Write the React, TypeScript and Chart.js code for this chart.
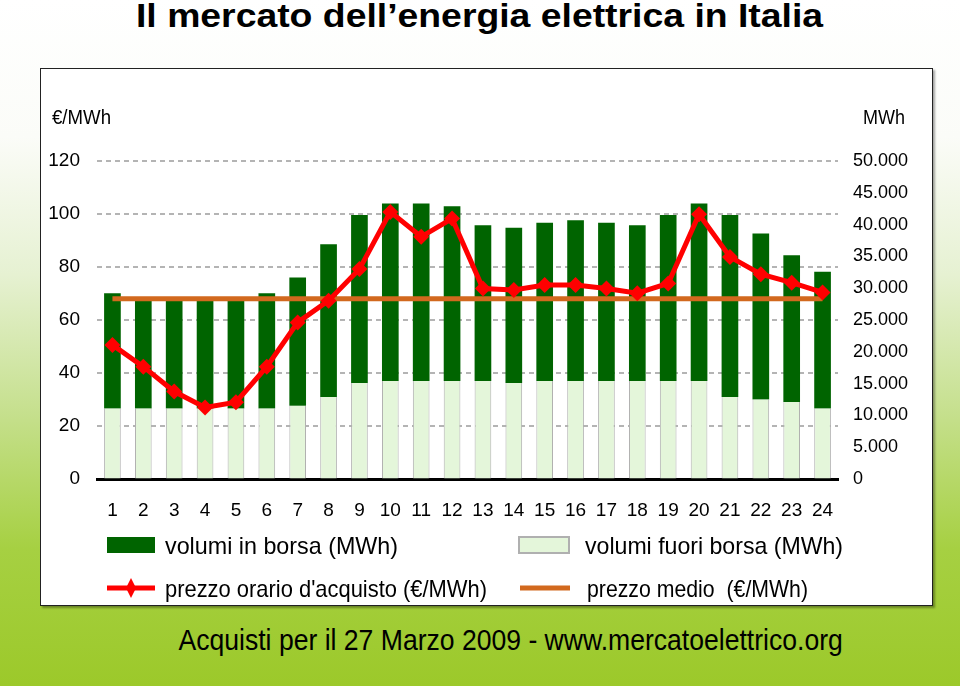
import React, { useEffect, useLayoutEffect, useRef } from "react";
import { Chart, registerables } from "chart.js";

Chart.register(...registerables);

const hours = ["1","2","3","4","5","6","7","8","9","10","11","12","13","14","15","16","17","18","19","20","21","22","23","24"];
const volumiInBorsa = [18100,17400,17400,17400,17400,18100,20200,24000,26400,27900,27900,27500,24500,24400,24900,25300,24900,24500,26100,27900,28600,26100,23100,21500];
const volumiFuoriBorsa = [11100,11100,11100,11100,11100,11100,11500,12900,15100,15400,15400,15400,15400,15100,15400,15400,15400,15400,15400,15400,12900,12500,12100,11100];
const prezzoOrario = [50.6,42.4,33.0,27.0,29.0,42.4,59.1,67.3,79.2,100.8,91.4,98.3,71.9,71.3,73.2,73.2,71.9,70.1,73.8,99.9,83.8,77.3,74.1,70.4];
const prezzoMedio = [68,68,68,68,68,68,68,68,68,68,68,68,68,68,68,68,68,68,68,68,68,68,68,68];
const leftTicks = ["0","20","40","60","80","100","120"];
const rightTicks = ["0","5.000","10.000","15.000","20.000","25.000","30.000","35.000","40.000","45.000","50.000"];

const FONT = '"Liberation Sans", Arial, sans-serif';
const DARK = "#006400";
const LIGHT = "#e4f6da";
const RED = "#ff0000";
const ORANGE = "#d2691e";

const legendPlugin = {
  id: "customLegend",
  afterDraw(chart: any) {
    const ctx = chart.ctx;
    const ds = chart.data.datasets;
    ctx.save();
    ctx.fillStyle = "#000";
    ctx.textBaseline = "alphabetic";
    ctx.textAlign = "left";
    ctx.font = `20px ${FONT}`;
    ctx.fillText("€/MWh", 11, 55, 59);
    ctx.fillText("MWh", 822, 55, 42);

    ctx.font = `24px ${FONT}`;
    // row 1
    ctx.fillStyle = ds[1].backgroundColor;
    ctx.fillRect(66, 468, 48, 16);
    ctx.fillStyle = "#000";
    ctx.fillText(ds[1].label, 124, 485, 233);

    ctx.fillStyle = ds[0].backgroundColor;
    ctx.fillRect(478, 468, 50, 16);
    ctx.strokeStyle = "#b0b0b0";
    ctx.lineWidth = 2;
    ctx.strokeRect(478, 468, 50, 16);
    ctx.fillStyle = "#000";
    ctx.fillText(ds[0].label, 544, 485, 258);

    // row 2
    ctx.strokeStyle = ds[3].borderColor;
    ctx.lineWidth = 5;
    ctx.beginPath();
    ctx.moveTo(66, 519);
    ctx.lineTo(114, 519);
    ctx.stroke();
    ctx.fillStyle = ds[3].borderColor;
    ctx.beginPath();
    ctx.moveTo(90, 509);
    ctx.lineTo(95, 519);
    ctx.lineTo(90, 529);
    ctx.lineTo(85, 519);
    ctx.closePath();
    ctx.fill();
    ctx.fillStyle = "#000";
    ctx.fillText(ds[3].label, 124, 528, 322);

    ctx.strokeStyle = ds[2].borderColor;
    ctx.lineWidth = 5;
    ctx.beginPath();
    ctx.moveTo(479, 519);
    ctx.lineTo(529, 519);
    ctx.stroke();
    ctx.fillStyle = "#000";
    ctx.fillText(ds[2].label, 546, 528, 221);
    ctx.restore();
  },
};

function FitText(props: { text: string; cx: number; top: number; width: number; size: number; bold?: boolean }) {
  const ref = useRef<HTMLSpanElement | null>(null);
  useLayoutEffect(() => {
    const el = ref.current;
    if (!el) return;
    const w = el.offsetWidth;
    const k = w > 0 ? props.width / w : 1;
    el.style.left = `${props.cx - w / 2}px`;
    el.style.transform = `scaleX(${k})`;
    el.style.transformOrigin = "center";
  }, []);
  return (
    <span
      ref={ref}
      style={{
        position: "absolute",
        top: props.top,
        left: 0,
        whiteSpace: "nowrap",
        fontFamily: FONT,
        fontWeight: props.bold ? "bold" : "normal",
        fontSize: props.size,
        lineHeight: `${props.size}px`,
        color: "#000",
      }}
    >
      {props.text}
    </span>
  );
}

export default function App() {
  const ref = useRef<HTMLCanvasElement | null>(null);

  useEffect(() => {
    if (!ref.current) return;
    const chart = new Chart(ref.current, {
      type: "bar",
      data: {
        labels: hours,
        datasets: [
          {
            type: "bar",
            label: "volumi fuori borsa (MWh)",
            data: volumiFuoriBorsa,
            backgroundColor: LIGHT,
            borderColor: "#b0b0b0",
            borderWidth: { left: 1, right: 1, top: 0, bottom: 0 },
            yAxisID: "y1",
            stack: "v",
            order: 2,
            barPercentage: 0.54,
            categoryPercentage: 1,
          },
          {
            type: "bar",
            label: "volumi in borsa (MWh)",
            data: volumiInBorsa,
            backgroundColor: DARK,
            borderWidth: 0,
            yAxisID: "y1",
            stack: "v",
            order: 2,
            barPercentage: 0.54,
            categoryPercentage: 1,
          },
          {
            type: "line",
            label: "prezzo medio  (€/MWh)",
            data: prezzoMedio,
            borderColor: ORANGE,
            backgroundColor: ORANGE,
            borderWidth: 5,
            pointRadius: 0,
            yAxisID: "y",
            order: 1,
          },
          {
            type: "line",
            label: "prezzo orario d'acquisto (€/MWh)",
            data: prezzoOrario,
            borderColor: RED,
            backgroundColor: RED,
            borderWidth: 5,
            pointStyle: "rectRot",
            pointRadius: 8,
            pointBorderWidth: 0,
            tension: 0,
            yAxisID: "y",
            order: 0,
          },
        ] as any,
      },
      options: {
        animation: false,
        responsive: false,
        layout: { padding: { top: 92, left: 0, right: 0, bottom: 0 } },
        plugins: {
          legend: { display: false },
          tooltip: { enabled: false },
          title: { display: false },
        },
        scales: {
          x: {
            stacked: true,
            grid: { display: false, drawTicks: false },
            border: { display: true, color: "#000", width: 3 },
            ticks: { color: "#000", font: { family: FONT, size: 19 }, padding: 20, maxRotation: 0, autoSkip: false },
            afterFit: (s: any) => { s.height = 126; },
          },
          y: {
            position: "left",
            min: 0,
            max: 120,
            grid: {
              drawTicks: false,
              lineWidth: 2,
              color: (c: any) => (c.tick && c.tick.value === 0 ? "rgba(0,0,0,0)" : "#b4b4b4"),
            },
            border: { display: false, dash: [5, 4] },
            ticks: {
              stepSize: 20,
              color: "#000",
              font: { family: FONT, size: 19 },
              padding: 17,
              callback: (_v: any, i: number) => leftTicks[i],
            },
            afterFit: (s: any) => { s.width = 56; },
          },
          y1: {
            position: "right",
            stacked: true,
            min: 0,
            max: 50000,
            grid: { drawOnChartArea: false, drawTicks: false },
            border: { display: false },
            ticks: {
              stepSize: 5000,
              color: "#000",
              font: { family: FONT, size: 18 },
              padding: 15,
              callback: (_v: any, i: number) => rightTicks[i],
            },
            afterFit: (s: any) => { s.width = 94; },
          },
        },
      } as any,
      plugins: [legendPlugin],
    });
    return () => chart.destroy();
  }, []);

  return (
    <div
      style={{
        position: "absolute",
        left: 0,
        top: 0,
        width: 960,
        height: 686,
        overflow: "hidden",
        background:
          "linear-gradient(to bottom, #ffffff 0%, #fbfcf8 20%, #e6f1d2 40%, #c6e08e 60%, #a6d042 80%, #9cc92a 100%)",
      }}
    >
      <FitText text="Il mercato dell’energia elettrica in Italia" cx={479} top={-1} width={687} size={33} bold />
      <div
        style={{
          position: "absolute",
          left: 40,
          top: 68,
          width: 891,
          height: 536,
          border: "1px solid #222",
          background: "#fff",
          boxShadow: "2px 2px 2px rgba(0,0,0,0.35)",
        }}
      >
        <canvas ref={ref} width={891} height={536} style={{ display: "block" }} />
      </div>
      <FitText text="Acquisti per il 27 Marzo 2009 - www.mercatoelettrico.org" cx={510} top={626} width={664} size={29} />
    </div>
  );
}
